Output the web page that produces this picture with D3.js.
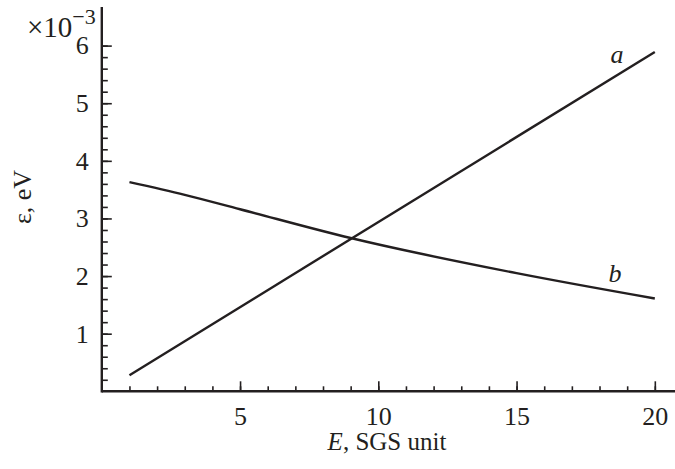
<!DOCTYPE html>
<html>
<head>
<meta charset="utf-8">
<script src="https://cdn.jsdelivr.net/npm/d3@7"></script>
<style>
  body { margin: 0; background: #fff; }
  svg { display: block; }
  text { font-family: "Liberation Serif", "Times New Roman", serif; fill: #231f20; }
</style>
</head>
<body>
<div class="chart"></div>
<script>
// field strength E (SGS unit) and energy eps (x10^-3 eV)
var curveA_E = [1, 20];
var curveA_eps = [0.28, 5.89];
var curveB_E = [1, 3, 5, 9, 15, 20];
var curveB_eps = [3.63, 3.41, 3.16, 2.66, 2.05, 1.61];
var xMajor = [5, 10, 15, 20];
var yMajor = [1, 2, 3, 4, 5, 6];

var width = 675, height = 469;
var ink = "#231f20";

var svg = d3.select(".chart").append("svg")
    .attr("width", width).attr("height", height);

var x = d3.scaleLinear().domain([0, 20.73]).range([101.8, 675]);
var y = d3.scaleLinear().domain([0, 6.67]).range([391.3, 7]);

// minor ticks
svg.append("g").attr("transform", "translate(0," + y(0) + ")")
    .call(d3.axisBottom(x).tickValues(d3.range(1, 21)).tickSize(-5).tickFormat(""));
svg.append("g").attr("transform", "translate(" + x(0) + ",0)")
    .call(d3.axisLeft(y).tickValues(d3.range(1, 31).map(function (d) { return d / 5; })).tickSize(-6).tickFormat(""));

// major ticks with labels
svg.append("g").attr("transform", "translate(0," + y(0) + ")")
    .call(d3.axisBottom(x).tickValues(xMajor).tickSize(-10).tickPadding(15).tickFormat(d3.format("d")));
svg.append("g").attr("transform", "translate(" + x(0) + ",0)")
    .call(d3.axisLeft(y).tickValues(yMajor).tickSize(-10).tickPadding(13).tickFormat(d3.format("d")));

svg.selectAll(".domain").remove();
svg.selectAll(".tick line").attr("stroke", ink).attr("stroke-width", 1.6);
svg.selectAll(".tick text").attr("font-size", 26).attr("fill", ink)
    .attr("font-family", "Liberation Serif, serif");

// axis lines
svg.append("line")
    .attr("x1", x(0)).attr("x2", width)
    .attr("y1", y(0)).attr("y2", y(0))
    .attr("stroke", ink).attr("stroke-width", 2.4);
svg.append("line")
    .attr("x1", x(0)).attr("x2", x(0))
    .attr("y1", y(0) + 1.2).attr("y2", y(6.67))
    .attr("stroke", ink).attr("stroke-width", 2.4);

// curves
var line = d3.line()
    .x(function (d) { return x(d[0]); })
    .y(function (d) { return y(d[1]); })
    .curve(d3.curveMonotoneX);

svg.append("path")
    .datum(d3.zip(curveA_E, curveA_eps))
    .attr("fill", "none").attr("stroke", ink).attr("stroke-width", 2.4)
    .attr("d", line);
svg.append("path")
    .datum(d3.zip(curveB_E, curveB_eps))
    .attr("fill", "none").attr("stroke", ink).attr("stroke-width", 2.4)
    .attr("d", line);

// curve labels
svg.append("text").attr("x", 617).attr("y", 63)
    .attr("text-anchor", "middle").attr("font-size", 26).attr("font-style", "italic")
    .text("a");
svg.append("text").attr("x", 615).attr("y", 282)
    .attr("text-anchor", "middle").attr("font-size", 26).attr("font-style", "italic")
    .text("b");

// axis titles
var xt = svg.append("text").attr("x", 387).attr("y", 450)
    .attr("text-anchor", "middle").attr("font-size", 25);
xt.append("tspan").attr("font-style", "italic").text("E");
xt.append("tspan").text(", SGS unit");

svg.append("text")
    .attr("transform", "translate(31,197) rotate(-90)")
    .attr("text-anchor", "middle").attr("font-size", 26)
    .text("ε, eV");

// exponent
var ex = svg.append("text").attr("x", 27).attr("y", 37).attr("font-size", 29);
ex.append("tspan").text("×10");
ex.append("tspan").attr("font-size", 22).attr("dy", -13).text("−3");
</script>
</body>
</html>
